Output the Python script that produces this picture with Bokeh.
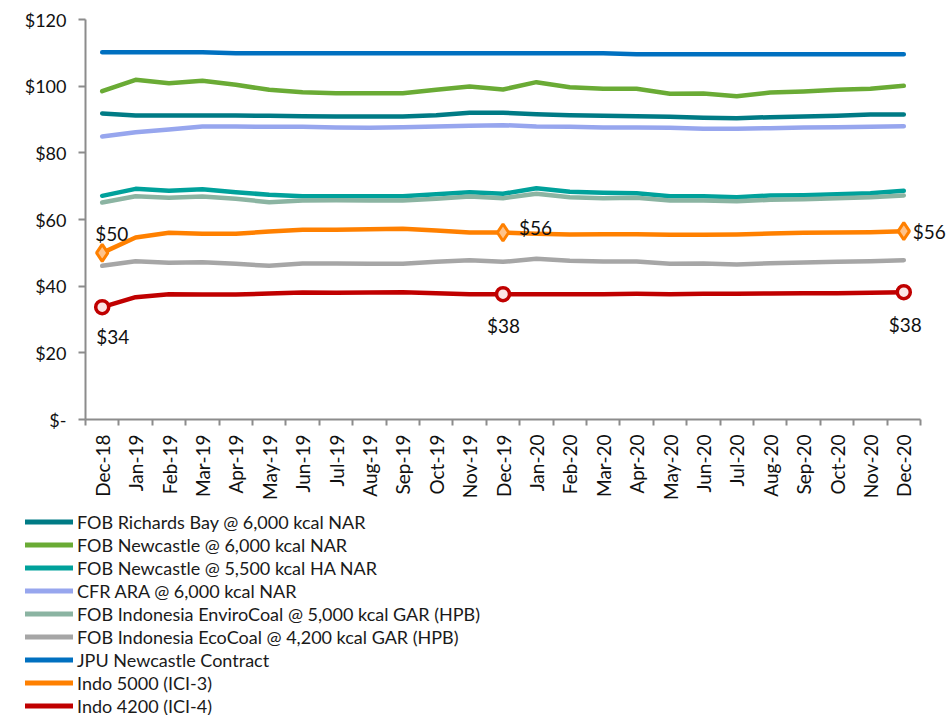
import math
from bokeh.plotting import figure
from bokeh.layouts import column
from bokeh.models import Range1d, FixedTicker, Legend, LegendItem
from bokeh.core.properties import value
from bokeh.embed import file_html
from bokeh.resources import INLINE

months = ["Dec-18", "Jan-19", "Feb-19", "Mar-19", "Apr-19", "May-19", "Jun-19", "Jul-19",
          "Aug-19", "Sep-19", "Oct-19", "Nov-19", "Dec-19", "Jan-20", "Feb-20", "Mar-20",
          "Apr-20", "May-20", "Jun-20", "Jul-20", "Aug-20", "Sep-20", "Oct-20", "Nov-20", "Dec-20"]

richards_bay = [91.8, 91.2, 91.2, 91.2, 91.2, 91.1, 91.0, 90.9, 90.9, 90.9, 91.3, 92.0, 92.0,
                91.6, 91.3, 91.1, 91.0, 90.8, 90.5, 90.4, 90.7, 90.9, 91.1, 91.5, 91.5]
newcastle_6000 = [98.5, 101.9, 100.9, 101.6, 100.4, 98.9, 98.2, 97.9, 97.9, 97.9, 98.9, 99.9, 99.0,
                  101.2, 99.7, 99.2, 99.2, 97.7, 97.8, 97.0, 98.1, 98.4, 98.9, 99.2, 100.1]
newcastle_5500 = [67.1, 69.2, 68.6, 69.1, 68.2, 67.4, 67.0, 67.0, 67.0, 67.0, 67.6, 68.2, 67.7,
                  69.4, 68.3, 68.0, 67.9, 67.0, 67.0, 66.7, 67.2, 67.3, 67.6, 67.9, 68.6]
cfr_ara = [84.9, 86.2, 87.0, 87.9, 87.9, 87.8, 87.8, 87.6, 87.5, 87.7, 87.9, 88.1, 88.3,
           87.9, 87.8, 87.6, 87.6, 87.5, 87.2, 87.2, 87.4, 87.6, 87.7, 87.8, 88.0]
envirocoal = [65.1, 67.0, 66.5, 66.9, 66.2, 65.2, 65.7, 65.8, 65.7, 65.7, 66.2, 66.9, 66.4,
              67.7, 66.7, 66.4, 66.5, 65.7, 65.7, 65.5, 65.9, 66.1, 66.4, 66.7, 67.2]
ecocoal = [46.1, 47.5, 47.0, 47.2, 46.7, 46.1, 46.8, 46.8, 46.7, 46.7, 47.3, 47.8, 47.3,
           48.2, 47.6, 47.4, 47.4, 46.7, 46.8, 46.5, 46.9, 47.1, 47.3, 47.5, 47.8]
jpu_newcastle = [110.2, 110.2, 110.2, 110.2, 109.9, 109.9, 109.9, 109.9, 109.9, 109.9, 109.9, 109.9, 109.9,
                 109.9, 109.9, 109.9, 109.6, 109.6, 109.6, 109.6, 109.6, 109.6, 109.6, 109.6, 109.6]
indo_5000 = [50.0, 54.6, 56.0, 55.7, 55.7, 56.4, 56.9, 56.9, 57.1, 57.2, 56.7, 56.1, 56.1,
             55.7, 55.5, 55.6, 55.6, 55.4, 55.4, 55.5, 55.8, 56.0, 56.1, 56.2, 56.5]
indo_4200 = [33.7, 36.7, 37.6, 37.5, 37.5, 37.8, 38.1, 38.0, 38.1, 38.2, 37.9, 37.6, 37.6,
             37.6, 37.6, 37.6, 37.7, 37.6, 37.7, 37.7, 37.8, 37.9, 37.9, 38.0, 38.2]

series_names = ["FOB Richards Bay @ 6,000 kcal NAR", "FOB Newcastle @ 6,000 kcal NAR",
                "FOB Newcastle @ 5,500 kcal HA NAR", "CFR ARA @ 6,000 kcal NAR",
                "FOB Indonesia EnviroCoal @ 5,000 kcal GAR (HPB)",
                "FOB Indonesia EcoCoal @ 4,200 kcal GAR (HPB)", "JPU Newcastle Contract",
                "Indo 5000 (ICI-3)", "Indo 4200 (ICI-4)"]
series_values = [richards_bay, newcastle_6000, newcastle_5500, cfr_ara, envirocoal, ecocoal,
                 jpu_newcastle, indo_5000, indo_4200]
colors = ["#007B85", "#6AAB35", "#00A19B", "#97A6EE", "#8BB4A2", "#A6A6A6", "#0070C0", "#FF8000", "#C00000"]

y_ticks = [0, 20, 40, 60, 80, 100, 120]
y_tick_labels = ["$-", "$20", "$40", "$60", "$80", "$100", "$120"]

marked_idx = [0, 12, 24]

FONT = "Lato"
n = len(months)
x = [i + 0.5 for i in range(n)]

p = figure(width=947, height=510, output_backend="svg", toolbar_location=None,
           x_range=Range1d(0, n + 27 / 33.4), y_range=Range1d(0, 120),
           min_border_left=85, min_border_right=0, min_border_top=19, min_border_bottom=91)
p.frame_align = False
p.outline_line_color = None
p.xgrid.grid_line_color = None
p.ygrid.grid_line_color = None

for name, vals, col in zip(series_names, series_values, colors):
    p.line(x, vals, line_color=col, line_width=4.5, line_join="round", line_cap="round")

mx = [x[i] for i in marked_idx]
p.scatter(mx, [indo_5000[i] for i in marked_idx], marker="diamond", size=17,
          fill_color="#FFC38A", line_color="#FF8000", line_width=3)
p.scatter(mx, [indo_4200[i] for i in marked_idx], marker="circle", size=13,
          fill_color="#FCE4E4", line_color="#C00000", line_width=3.5)

lab5000 = ["$%d" % round(indo_5000[i]) for i in marked_idx]
lab4200 = ["$%d" % round(indo_4200[i]) for i in marked_idx]
p.text(mx, [indo_5000[i] for i in marked_idx], text=lab5000,
       x_offset=[-7, 16, 9], y_offset=[-19, -5, 0],
       text_align="left", text_baseline="middle",
       text_font=value(FONT), text_font_size="19px", text_color="#111111")
p.text(mx, [indo_4200[i] for i in marked_idx], text=lab4200,
       x_offset=[-6, -16, -15], y_offset=[29, 31, 32],
       text_align="left", text_baseline="middle",
       text_font=value(FONT), text_font_size="19px", text_color="#111111")

# y axis
p.yaxis.ticker = FixedTicker(ticks=y_ticks)
p.yaxis.major_label_overrides = {t: l for t, l in zip(y_ticks, y_tick_labels)}
p.yaxis.axis_line_color = "#8C8C8C"
p.yaxis.axis_line_width = 2
p.yaxis.major_tick_line_color = "#8C8C8C"
p.yaxis.major_tick_line_width = 2
p.yaxis.major_tick_out = 7
p.yaxis.major_tick_in = 0
p.yaxis.minor_tick_line_color = None
p.yaxis.major_label_text_font = FONT
p.yaxis.major_label_text_font_size = "18px"
p.yaxis.major_label_text_color = "#111111"
p.yaxis.major_label_standoff = 12

# x axis
p.xaxis.bounds = (0, n)
p.xaxis.ticker = FixedTicker(ticks=x, minor_ticks=list(range(n + 1)))
p.xaxis.major_label_overrides = {xx: m for xx, m in zip(x, months)}
p.xaxis.major_label_orientation = math.pi / 2
p.xaxis.axis_line_color = "#8C8C8C"
p.xaxis.axis_line_width = 2
p.xaxis.major_tick_line_color = None
p.xaxis.minor_tick_line_color = "#8C8C8C"
p.xaxis.minor_tick_line_width = 2
p.xaxis.minor_tick_out = 6
p.xaxis.minor_tick_in = 0
p.xaxis.major_label_text_font = FONT
p.xaxis.major_label_text_font_size = "19px"
p.xaxis.major_label_text_color = "#111111"
p.xaxis.major_label_standoff = 9

# legend figure
p2 = figure(width=947, height=205, output_backend="svg", toolbar_location=None,
            x_range=Range1d(0, 1), y_range=Range1d(0, 1),
            x_axis_location=None, y_axis_location=None,
            min_border_left=0, min_border_right=0, min_border_top=0, min_border_bottom=0)
p2.frame_align = False
p2.outline_line_color = None
p2.grid.visible = False
items = []
for name, col in zip(series_names, colors):
    r2 = p2.line([-5, -4], [-5, -4], line_color=col, line_width=5, line_cap="round")
    items.append(LegendItem(label=name, renderers=[r2]))
legend = Legend(items=items, location=(25, -2), orientation="vertical",
                padding=0, margin=0, spacing=0, label_height=23, glyph_height=23,
                glyph_width=48, label_standoff=4,
                label_text_font=FONT, label_text_font_size="18px", label_text_color="#1a1a1a",
                border_line_color=None, background_fill_alpha=0)
p2.add_layout(legend, "center")

layout = column(p, p2, spacing=0)
open("out.html", "w").write(file_html(layout, INLINE))
